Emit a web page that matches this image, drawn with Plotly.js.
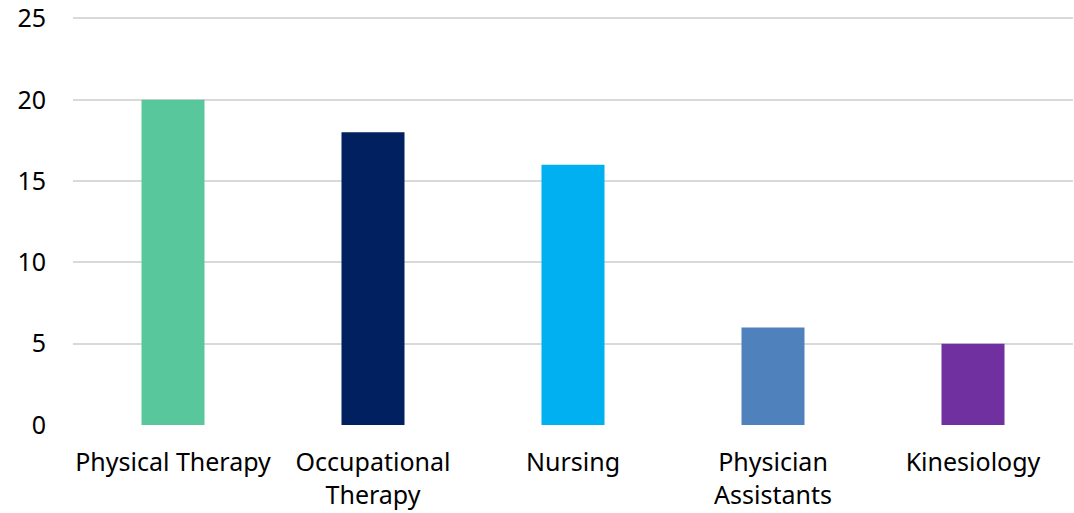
<!DOCTYPE html>
<html>
<head>
<meta charset="utf-8">
<script src="https://cdn.plot.ly/plotly-3.0.1.min.js"></script>
<style>html,body{margin:0;padding:0;background:#fff;}#chart{width:1074px;height:513px;}</style>
</head>
<body>
<div id="chart"></div>
<script>
const categories = ["Physical Therapy", "Occupational<br>Therapy", "Nursing", "Physician<br>Assistants", "Kinesiology"];
const values = [20, 18, 16, 6, 5];
const barColors = ["#59C79C", "#002060", "#00B0F0", "#4F81BD", "#7030A0"];
const yTicks = [0, 5, 10, 15, 20, 25];

const font = {family: "'Noto Sans', sans-serif", size: 25, color: "#000000"};

Plotly.newPlot("chart", [{
  type: "bar",
  x: categories,
  y: values,
  marker: {color: barColors},
  hoverinfo: "none"
}], {
  width: 1074, height: 513,
  margin: {l: 73, r: 1, t: 16, b: 88, pad: 0},
  paper_bgcolor: "#ffffff",
  plot_bgcolor: "#ffffff",
  bargap: 0.685,
  showlegend: false,
  font: font,
  xaxis: {
    type: "category",
    showgrid: false, zeroline: false, showline: false,
    ticks: "", tickfont: font,
    ticklabelstandoff: 20,
    ticklabeloverflow: "allow"
  },
  yaxis: {
    range: [0, 25.15],
    tickvals: yTicks,
    ticktext: yTicks.map(String),
    showgrid: true, gridcolor: "#D9D9D9", gridwidth: 2,
    zeroline: false, showline: false,
    ticks: "", tickfont: font,
    ticklabelstandoff: 26,
    ticklabeloverflow: "allow",
    automargin: false
  }
}, {staticPlot: true});
</script>
</body>
</html>
